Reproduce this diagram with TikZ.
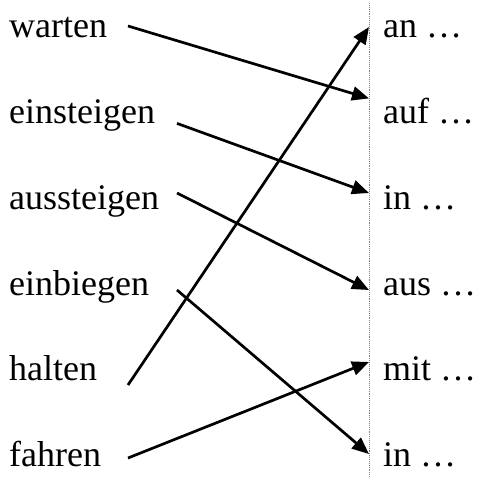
\documentclass[tikz,border=0pt]{standalone}
\usepackage{fontspec}
\setmainfont{Liberation Serif}
\usetikzlibrary{arrows.meta}

\begin{document}
\begin{tikzpicture}[
  x=1pt, y=-1pt,
  word/.style={anchor=base west, inner sep=0pt, font=\fontsize{36}{40}\selectfont},
  arrow/.style={-{Triangle[length=17pt,width=14pt]}, line width=2.7pt},
  divider/.style={densely dotted, gray, line width=0.9pt}
]
\useasboundingbox (0,0) rectangle (478,477);

% verbs
\node[word] (warten) at (9,37.7) {warten};
\node[word] (einsteigen) at (9,123.4) {einsteigen};
\node[word] (aussteigen) at (9,209) {aussteigen};
\node[word] (einbiegen) at (9,295) {einbiegen};
\node[word] (halten) at (9,380.5) {halten};
\node[word] (fahren) at (9,466) {fahren};

% prepositions
\node[word] (an) at (383,37.7) {an …};
\node[word] (auf) at (383,123.4) {auf …};
\node[word] (in1) at (383,209) {in …};
\node[word] (aus) at (383,295) {aus …};
\node[word] (mit) at (383,380.5) {mit …};
\node[word] (in2) at (383,466) {in …};

\draw[divider] (369,3) -- (369,477);

\draw[arrow] ([shift={(119,-11.7)}]warten.base west) -- ([shift={(-14,-25)}]auf.base west);
\draw[arrow] ([shift={(168,0)}]einsteigen.base west) -- ([shift={(-14,-16)}]in1.base west);
\draw[arrow] ([shift={(168,-16)}]aussteigen.base west) -- ([shift={(-14,-5)}]aus.base west);
\draw[arrow] ([shift={(168,-5)}]einbiegen.base west) -- ([shift={(-14,-12)}]in2.base west);
\draw[arrow] ([shift={(119,4.5)}]halten.base west) -- ([shift={(-14,-10.7)}]an.base west);
\draw[arrow] ([shift={(119,-8)}]fahren.base west) -- ([shift={(-14,-18.5)}]mit.base west);
\end{tikzpicture}
\end{document}
